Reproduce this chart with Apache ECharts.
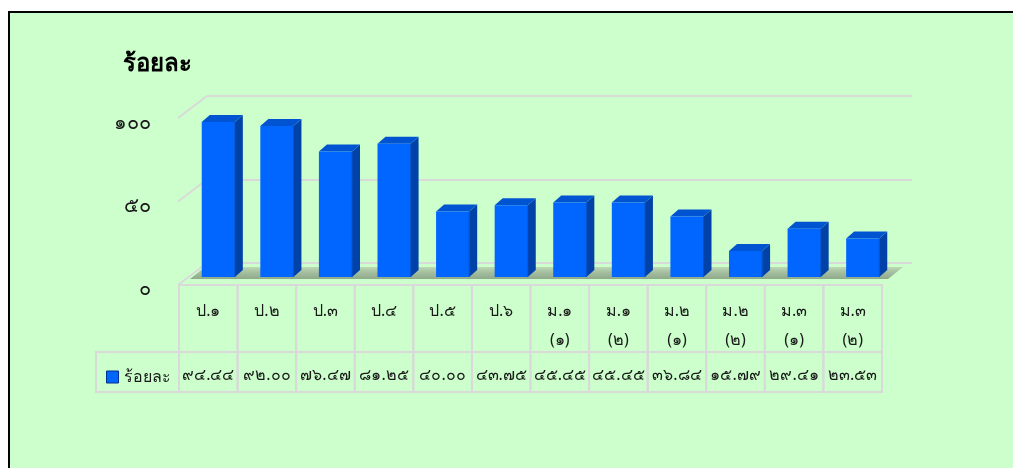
<!DOCTYPE html>
<html><head><meta charset="utf-8">
<script src="https://cdn.jsdelivr.net/npm/echarts@6/dist/echarts.min.js"></script>
<style>html,body{margin:0;padding:0;background:#fff}#c{width:1013px;height:468px}</style>
</head><body><div id="c"></div>
<script>
const categories = ['ป.๑','ป.๒','ป.๓','ป.๔','ป.๕','ป.๖','ม.๑\n(๑)','ม.๑\n(๒)','ม.๒\n(๑)','ม.๒\n(๒)','ม.๓\n(๑)','ม.๓\n(๒)'];
const values = [94.44, 92.00, 76.47, 81.25, 40.00, 43.75, 45.45, 45.45, 36.84, 15.79, 29.41, 23.53];
const yTicks = [0, 50, 100];
const yTickLabels = ['๐', '๕๐', '๑๐๐'];
const seriesName = 'ร้อยละ';
const titleText = 'ร้อยละ';

const thaiDigits = '๐๑๒๓๔๕๖๗๘๙';
const toThai = s => String(s).replace(/[0-9]/g, d => thaiDigits[+d]);
const valueLabels = values.map(v => toThai(v.toFixed(2)));

const FONT = '"Noto Sans", "DejaVu Sans", sans-serif';
const TXT = '#1a1a1a';
const GRIDC = '#d9d9d9';
const DX = 8, DY = 7;

const chart = echarts.init(document.getElementById('c'), null, {renderer: 'canvas'});

const option = {
  backgroundColor: '#ffffff',
  animation: false,
  title: {text: titleText, left: 118, top: 47, textStyle: {fontFamily: FONT, fontSize: 24, fontWeight: 'bold', color: '#000'}},
  graphic: [{type: 'rect', z: -100, shape: {x: 9, y: 12, width: 1100, height: 600}, style: {fill: '#ccffcc', stroke: '#000', lineWidth: 2}}],
  legend: {
    data: [seriesName], left: 101, top: 364, itemWidth: 12, itemHeight: 12, itemGap: 4,
    icon: 'rect', textStyle: {fontFamily: FONT, fontSize: 16, color: TXT},
    itemStyle: {borderColor: '#002f8f', borderWidth: 1}
  },
  grid: [
    {left: 189, right: 121, top: 113, bottom: 191},   // bar plane
    {left: 207, right: 101, top: 96, bottom: 205},    // back wall
    {left: 160, right: 852, top: 123, bottom: 179},   // tick labels
    {left: 179, right: 131, top: 285, bottom: 76}     // data table
  ],
  xAxis: [
    {gridIndex: 0, type: 'category', data: categories, show: false},
    {gridIndex: 1, type: 'value', min: 0, max: 1, show: false},
    {gridIndex: 2, type: 'value', min: 0, max: 1, show: false},
    {gridIndex: 3, type: 'category', data: categories, show: false}
  ],
  yAxis: [
    {gridIndex: 0, type: 'value', min: 0, max: 100, show: false},
    {gridIndex: 1, type: 'value', min: 0, max: 100, interval: 50, axisLine: {show: false}, axisTick: {show: false}, axisLabel: {show: false}, splitLine: {show: true, lineStyle: {color: GRIDC, width: 2}}},
    {gridIndex: 2, type: 'value', min: 0, max: 100, interval: 50, axisLine: {show: false}, axisTick: {show: false}, splitLine: {show: false},
      axisLabel: {margin: 9, fontFamily: FONT, fontSize: 20, color: TXT, formatter: v => yTickLabels[yTicks.indexOf(v)]}},
    {gridIndex: 3, type: 'value', min: 0, max: 1, show: false}
  ],
  series: [
    // wall / floor decoration
    {
      type: 'custom', xAxisIndex: 1, yAxisIndex: 1, silent: true, z: 1,
      data: yTicks.map(t => [0, t]),
      renderItem: function (params, api) {
        const p = api.coord([0, api.value(1)]);
        const children = [{type: 'line', shape: {x1: p[0], y1: p[1], x2: p[0] - 29, y2: p[1] + 22}, style: {stroke: GRIDC, lineWidth: 2}}];
        if (api.value(1) === 0) {
          const r = api.coord([1, 0]);
          children.push({type: 'polygon', shape: {points: [[p[0] - 2, p[1] + 4], [r[0] - 9, p[1] + 4], [r[0] - 24, p[1] + 16], [p[0] - 17, p[1] + 16]]},
            style: {fill: new echarts.graphic.LinearGradient(0, 0, 0, 1, [{offset: 0, color: '#bcd8b4'}, {offset: 0.5, color: '#a2bc9d'}, {offset: 1, color: '#8fa98b'}])}});
        }
        return {type: 'group', children};
      }
    },
    // 3D bars
    {
      name: seriesName, type: 'custom', xAxisIndex: 0, yAxisIndex: 0, z: 5,
      itemStyle: {color: '#0066ff'},
      data: values.map((v, i) => [i, v]),
      renderItem: function (params, api) {
        const top = api.coord([api.value(0), api.value(1)]);
        const base = api.coord([api.value(0), 0]);
        const w = api.size([1, 0])[0] * 0.565;
        const x0 = top[0] - w / 2, x1 = top[0] + w / 2;
        const yt = top[1], yb = base[1];
        return {type: 'group', children: [
          {type: 'polygon', shape: {points: [[x1, yt], [x1 + DX, yt - DY], [x1 + DX, yb - DY], [x1, yb]]}, style: {fill: '#0042a8'}},
          {type: 'polygon', shape: {points: [[x0, yt], [x0 + DX, yt - DY], [x1 + DX, yt - DY], [x1, yt]]}, style: {fill: '#0054d2'}},
          {type: 'rect', shape: {x: x0, y: yt, width: w, height: yb - yt}, style: {fill: '#0066ff'}},
          {type: 'line', shape: {x1: x1, y1: yt, x2: x1, y2: yb}, style: {stroke: '#0050cc', lineWidth: 1}}
        ]};
      }
    },
    // data table
    {
      type: 'custom', xAxisIndex: 3, yAxisIndex: 3, silent: true, z: 3,
      data: categories.map((c, i) => [i, 0]),
      renderItem: function (params, api) {
        const i = api.value(0);
        const cs = params.coordSys;
        const cx = api.coord([i, 0])[0];
        const w = api.size([1, 0])[0];
        const yTop = cs.y, yMid = cs.y + 67, yBot = cs.y + cs.height;
        const children = [
          {type: 'rect', shape: {x: cx - w / 2, y: yTop, width: w, height: yMid - yTop}, style: {fill: 'none', stroke: GRIDC, lineWidth: 2}},
          {type: 'rect', shape: {x: cx - w / 2, y: yMid, width: w, height: yBot - yMid}, style: {fill: 'none', stroke: GRIDC, lineWidth: 2}},
          {type: 'text', style: {text: valueLabels[i], x: cx, y: yMid + 23, align: 'center', verticalAlign: 'middle', fontFamily: FONT, fontSize: 16, fill: TXT}}
        ];
        categories[i].split('\n').forEach((ln, k) => {
          children.push({type: 'text', style: {text: ln, x: cx, y: yTop + 26 + k * 29, align: 'center', verticalAlign: 'middle', fontFamily: FONT, fontSize: 16, fill: TXT}});
        });
        if (i === 0) {
          children.push({type: 'rect', shape: {x: 96, y: yMid, width: cx - w / 2 - 96, height: yBot - yMid}, style: {fill: 'none', stroke: GRIDC, lineWidth: 2}});
        }
        return {type: 'group', children};
      }
    }
  ]
};
chart.setOption(option);
</script></body></html>
